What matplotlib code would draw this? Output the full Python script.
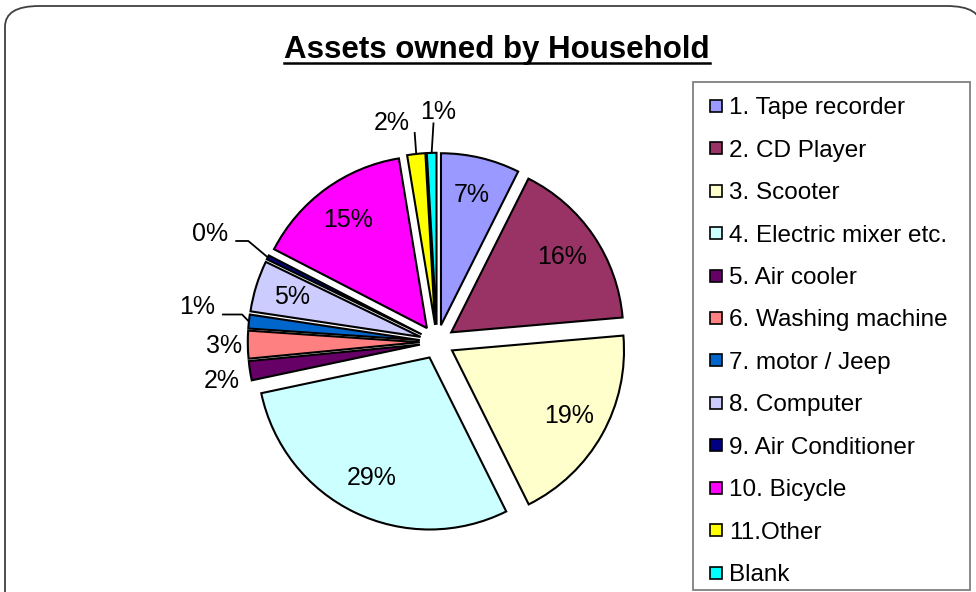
import numpy as np
import matplotlib.pyplot as plt
from matplotlib.patches import FancyBboxPatch, Rectangle
from matplotlib.lines import Line2D

plt.rcParams['font.family'] = ['Liberation Sans', 'DejaVu Sans']

# Data
labels = ['1. Tape recorder', '2. CD Player', '3. Scooter', '4. Electric mixer etc.',
          '5. Air cooler', '6. Washing machine', '7. motor / Jeep', '8. Computer',
          '9. Air Conditioner', '10. Bicycle', '11.Other', 'Blank']
shares = [7.4, 16.2, 19.0, 29.0, 1.8, 2.6, 1.3, 4.8, 0.4, 14.8, 1.7, 0.9]
colors = ['#9999FF', '#993366', '#FFFFCC', '#CCFFFF', '#660066', '#FF8080',
          '#0066CC', '#CCCCFF', '#000080', '#FF00FF', '#FFFF00', '#00FFFF']

# label layout for the thin slices: (angle shift in deg clockwise, distance in radii)
# None = label inside the slice
outside = [None, None, None, None, (-1.6, 1.27), (-0.2, 1.24), (2.2, 1.41), None,
           (-1.1, 1.46), None, (-5.4, 1.30), (2.0, 1.34)]
# leader lines: (start offset from label centre in px, horizontal stub length in px)
leaders = {6: ((25, -8), 20), 8: ((25, -7), 13), 10: ((23, -9), 0), 11: ((-5, -11), 0)}

W, H = 976, 592
R = 172.0            # pie radius in pixels
cx, cy = 437, 342    # pie centre in pixels (from top)

fig = plt.figure(figsize=(W / 100, H / 100), dpi=100)

# slide-like rounded frame
frame = FancyBboxPatch((5 / W, -0.2), 1.0, (H - 6) / H + 0.2,
                       boxstyle='round,pad=0,rounding_size=0.035',
                       transform=fig.transFigure, facecolor='white', edgecolor='#404040',
                       linewidth=1.3, zorder=-5)
fig.patches.append(frame)

ax = fig.add_axes([0, 0, 1, 1])
ax.set_axis_off()
ax.set_zorder(2)

wedges, texts = ax.pie(shares, colors=colors, startangle=90, counterclock=False,
                       explode=[0.1] * len(shares),
                       wedgeprops=dict(edgecolor='black', linewidth=1.5))
ax.set_aspect('auto')
ax.set_xlim(-cx / R, (W - cx) / R)
ax.set_ylim(-(H - cy) / R, cy / R)

for i, (w, val) in enumerate(zip(wedges, shares)):
    mid = (w.theta1 + w.theta2) / 2
    txt = '%d%%' % round(val)
    if outside[i] is None:
        d = 0.1 + 0.78
        a = np.deg2rad(mid)
        ax.text(d * np.cos(a), d * np.sin(a), txt, ha='center', va='center', fontsize=18)
        continue
    shift, r = outside[i]
    a = np.deg2rad(mid - shift)
    tx, ty = r * np.cos(a), r * np.sin(a)
    ax.text(tx, ty, txt, ha='center', va='center', fontsize=18)
    if i in leaders:
        (ox, oy), stub = leaders[i]
        x0, y0 = tx + ox / R, ty + oy / R
        xe, ye = 1.1 * np.cos(np.deg2rad(mid)), 1.1 * np.sin(np.deg2rad(mid))
        ax.plot([x0, x0 + stub / R, xe], [y0, y0, ye], color='black', lw=1.3,
                solid_capstyle='butt')

# title with underline
title = fig.text(497 / W, 1 - 50 / H, 'Assets owned by Household', ha='center', va='center',
                 fontsize=22.5, fontweight='bold')
fig.canvas.draw()
bb = title.get_window_extent().transformed(fig.transFigure.inverted())
fig.add_artist(Line2D([bb.x0, bb.x1], [bb.y0 + 0.004, bb.y0 + 0.004],
                      transform=fig.transFigure, color='black', lw=1.8))

# legend box
fig.patches.append(Rectangle((693 / W, 2 / H), (970 - 693) / W, (590 - 82) / H,
                             transform=fig.transFigure, facecolor='white',
                             edgecolor='#808080', linewidth=1.3, zorder=1))
handles = [Line2D([], [], marker='s', linestyle='none', markersize=8.5,
                  markerfacecolor=c, markeredgecolor='black', markeredgewidth=1.2)
           for c in colors]
leg = fig.legend(handles, labels, loc='upper left', bbox_to_anchor=(689 / W, 1 - 82 / H),
                 fontsize=17.5, frameon=False, handlelength=1.0, handletextpad=0.02,
                 labelspacing=0.84, borderpad=0.63, borderaxespad=0)
leg.set_zorder(3)

fig.savefig('out.png', dpi=100)
